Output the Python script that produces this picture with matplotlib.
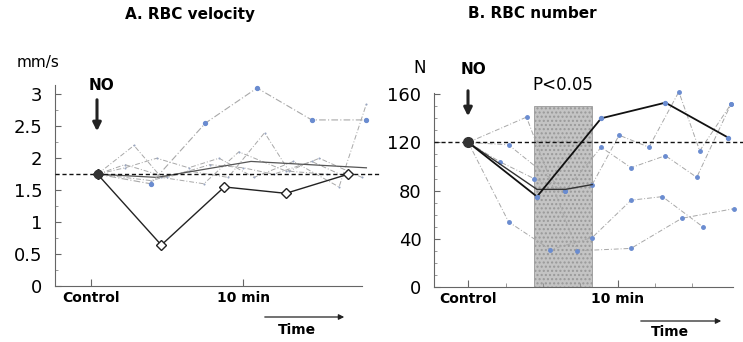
import numpy as np
import matplotlib.pyplot as plt
from matplotlib.patches import Rectangle

# ---- data ----
# A. RBC velocity (mm/s), time in minutes
vel_baseline = 1.75
vel_black_t = [0.4, 4.6, 8.75, 12.8, 16.9]
vel_black = [1.75, 0.64, 1.55, 1.45, 1.75]
vel_blue_t = [0.4, 3.9, 7.5, 10.9, 14.5, 18.1]
vel_blue = [1.75, 1.6, 2.55, 3.1, 2.6, 2.6]
vel_gray = [
    ([0.4, 2.8, 4.6, 7.4, 9.7, 12.8, 15.5], [1.75, 2.2, 1.7, 1.6, 2.1, 1.8, 1.75]),
    ([0.4, 2.2, 4.3, 6.4, 8.4, 10.7, 13.3, 16.3, 18.1], [1.75, 1.85, 2.0, 1.85, 2.0, 1.7, 1.95, 1.55, 2.85]),
    ([0.4, 3.9, 6.4, 9.0, 11.4, 13.0, 15.0, 17.8], [1.75, 1.65, 1.8, 1.7, 2.4, 1.8, 2.0, 1.7]),
    ([0.4, 2.2, 5.0, 7.8, 10.0, 12.0, 14.5, 16.8], [1.75, 1.9, 1.7, 1.9, 1.85, 1.75, 1.95, 1.7]),
]
vel_solid_t = [0.4, 4.3, 10.5, 18.1]
vel_solid = [1.75, 1.7, 1.95, 1.85]

# B. RBC number (N)
num_baseline = 120
num_black_t = [0, 4.6, 8.9, 13.2, 17.4]
num_black = [120, 75, 140, 153, 124]
num_black2_t = [0, 4.6, 6.5, 8.3]
num_black2 = [120, 81, 81, 85]
num_series = [
    ([0, 3.9, 7.3, 10.9, 14.3, 17.8], [120, 141, 30, 32, 57, 65]),
    ([0, 2.1, 4.4, 6.5, 8.3, 10.1, 12.1, 14.1, 15.5, 17.6], [120, 104, 90, 80, 85, 126, 116, 162, 113, 152]),
    ([0, 2.7, 5.5, 8.3, 10.9, 13.0, 15.7], [120, 54, 31, 41, 72, 75, 50]),
    ([0, 2.7, 6.5, 8.9, 10.9, 13.2, 15.3, 17.6], [120, 118, 80, 116, 99, 109, 91, 152]),
]
p_window = (4.4, 8.3, 150)

gray = '#a8a8a8'
blue = '#6a8cd0'

fig = plt.figure(figsize=(7.43, 3.42), dpi=100)
ax1 = fig.add_axes([0.074, 0.164, 0.413, 0.588])
ax2 = fig.add_axes([0.584, 0.161, 0.402, 0.567])

# ---- panel A ----
for t, y in vel_gray:
    ax1.plot(t, y, color=gray, lw=0.7, ls=(0, (5, 2, 1, 2)), marker='o', ms=1.5,
             mfc='#9aa6c0', mec='none', clip_on=False)
ax1.plot(vel_solid_t, vel_solid, color='#555555', lw=0.9, clip_on=False)
ax1.plot(vel_blue_t, vel_blue, color=gray, lw=0.8, ls=(0, (6, 2, 1, 2)), marker='o', ms=2.8,
         mfc=blue, mec=blue, clip_on=False)
ax1.plot(vel_black_t, vel_black, color='#222222', lw=1.0, marker='D', ms=5,
         mfc='white', mec='#222222', clip_on=False, zorder=5)
ax1.plot([0.4], [vel_baseline], 'o', color='#333333', ms=6, zorder=6, clip_on=False)
ax1.plot([-2.4, 19.0], [vel_baseline] * 2, color='#111111', lw=1.0, ls=(0, (3, 2)),
         clip_on=False, zorder=4)
ax1.set_xlim(-2.4, 17.8)
ax1.set_ylim(0, 3.15)
ax1.set_yticks(np.arange(0, 3.01, 0.5))
ax1.set_yticklabels(['0', '0.5', '1', '1.5', '2', '2.5', '3'])
ax1.set_yticks(np.arange(0.25, 3.0, 0.5), minor=True)
ax1.set_xticks([0, 10])
ax1.set_xticklabels(['Control', '10 min'])

# ---- panel B ----
ax2.add_patch(Rectangle((p_window[0], 0), p_window[1] - p_window[0], p_window[2],
                        facecolor='#c4c4c4', edgecolor='#999999', lw=0.6,
                        hatch='....', zorder=1))
for t, y in num_series:
    ax2.plot(t, y, color=gray, lw=0.7, ls=(0, (5, 2, 1, 2)), marker='o', ms=2.5,
             mfc=blue, mec=blue, clip_on=False, zorder=2)
ax2.plot(num_black2_t, num_black2, color='#333333', lw=1.0, zorder=3)
ax2.plot(num_black_t, num_black, color='#111111', lw=1.3, marker='o', ms=2.8,
         mfc=blue, mec=blue, clip_on=False, zorder=4)
ax2.plot([0], [num_baseline], 'o', color='#333333', ms=7, zorder=6, clip_on=False)
ax2.plot([-2.3, 18.4], [num_baseline] * 2, color='#111111', lw=1.0, ls=(0, (3, 2)),
         clip_on=False, zorder=5)
ax2.set_xlim(-2.3, 17.7)
ax2.set_ylim(0, 161)
ax2.set_yticks([0, 40, 80, 120, 160])
ax2.set_yticks(np.arange(10, 160, 10), minor=True)
ax2.set_xticks([0, 10])
ax2.set_xticks([2.5, 5, 7.5, 12.5, 15], minor=True)
ax2.set_xticklabels(['Control', '10 min'])

for ax in (ax1, ax2):
    for s in ('top', 'right'):
        ax.spines[s].set_visible(False)
    for s in ('left', 'bottom'):
        ax.spines[s].set_color('#666666')
        ax.spines[s].set_linewidth(0.8)
    ax.tick_params(axis='y', which='major', direction='in', length=4, labelsize=13,
                   pad=9, color='#666666')
    ax.tick_params(axis='y', which='minor', direction='in', length=2, color='#888888')
    ax.tick_params(axis='x', which='major', direction='in', length=5, labelsize=10,
                   pad=4, color='#666666')
    ax.tick_params(axis='x', which='minor', direction='in', length=3, color='#888888')
    for lab in ax.get_xticklabels():
        lab.set_fontweight('bold')

# ---- text annotations ----
fig.text(190 / 743, 1 - 14 / 342, 'A. RBC velocity', ha='center', va='center',
         fontsize=11, fontweight='bold')
fig.text(532 / 743, 1 - 14 / 342, 'B. RBC number', ha='center', va='center',
         fontsize=11, fontweight='bold')
fig.text(38 / 743, 1 - 62 / 342, 'mm/s', ha='center', va='center', fontsize=11)
fig.text(420 / 743, 1 - 68 / 342, 'N', ha='center', va='center', fontsize=12)
fig.text(101 / 743, 1 - 86 / 342, 'NO', ha='center', va='center', fontsize=11,
         fontweight='bold')
fig.text(474 / 743, 1 - 70 / 342, 'NO', ha='center', va='center', fontsize=11,
         fontweight='bold')
fig.text(563 / 743, 1 - 85 / 342, 'P<0.05', ha='center', va='center', fontsize=12)
fig.text(297 / 743, 1 - 330 / 342, 'Time', ha='center', va='center', fontsize=10,
         fontweight='bold')
fig.text(670 / 743, 1 - 332 / 342, 'Time', ha='center', va='center', fontsize=10,
         fontweight='bold')

arrow = dict(arrowstyle='-|>', color='#222222', lw=2.2, mutation_scale=12)
ax1.annotate('', xy=(97 / 743, 1 - 134 / 342), xytext=(97 / 743, 1 - 97 / 342),
             xycoords='figure fraction', arrowprops=arrow, annotation_clip=False)
ax2.annotate('', xy=(468 / 743, 1 - 119 / 342), xytext=(468 / 743, 1 - 88 / 342),
             xycoords='figure fraction', arrowprops=arrow, annotation_clip=False)
tarrow = dict(arrowstyle='-|>', color='#222222', lw=0.9, mutation_scale=8)
ax1.annotate('', xy=(347 / 743, 1 - 317 / 342), xytext=(262 / 743, 1 - 317 / 342),
             xycoords='figure fraction', arrowprops=tarrow, annotation_clip=False)
ax2.annotate('', xy=(724 / 743, 1 - 321 / 342), xytext=(638 / 743, 1 - 321 / 342),
             xycoords='figure fraction', arrowprops=tarrow, annotation_clip=False)

fig.savefig('out.png', dpi=100)
